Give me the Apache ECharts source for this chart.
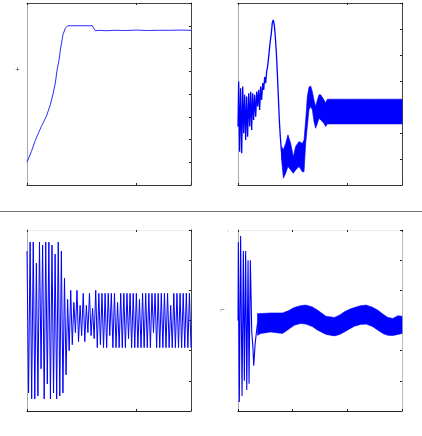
<!DOCTYPE html>
<html><head><meta charset="utf-8">
<script src="https://cdn.jsdelivr.net/npm/echarts@6/dist/echarts.min.js"></script>
<style>html,body{margin:0;padding:0;background:#fff}#c{width:422px;height:436px}</style>
</head><body><div id="c"></div><script>
// ---------- DATA ----------
// Panel 1 (top-left): rising response, then plateau
var p1X = [0, 0.040, 0.079, 0.131, 0.177, 0.213, 0.238, 0.259, 0.274, 0.293, 0.308, 0.329, 0.351, 0.375, 0.450, 0.520, 0.598, 0.625, 0.665, 0.726, 0.800, 0.900, 1.000, 1.100, 1.200, 1.300, 1.400, 1.500];
var p1Y = [1.0, 1.47, 2.0, 2.57, 3.02, 3.52, 4.0, 4.48, 5.02, 5.5, 6.02, 6.61, 6.90, 7.0, 7.0, 7.0, 7.0, 6.78, 6.80, 6.78, 6.80, 6.79, 6.81, 6.79, 6.80, 6.80, 6.81, 6.80];

// Panel 2 (top-right): early oscillating line
var p2X = [0, 0.006, 0.015, 0.024, 0.034, 0.043, 0.052, 0.061, 0.070, 0.079, 0.088, 0.098, 0.107, 0.116, 0.125, 0.134, 0.143, 0.152, 0.162, 0.171, 0.180, 0.189, 0.198, 0.207, 0.216, 0.226, 0.235, 0.244, 0.253, 0.262, 0.271, 0.284, 0.293, 0.305, 0.314, 0.323, 0.332, 0.341, 0.351, 0.360, 0.369, 0.378, 0.387, 0.396, 0.405];
var p2Y = [2.25, 3.98, 1.28, 3.72, 1.22, 3.79, 1.99, 3.47, 1.73, 3.40, 1.86, 3.53, 2.25, 3.59, 2.12, 3.53, 2.50, 3.47, 2.63, 3.59, 3.02, 3.66, 2.89, 3.79, 3.27, 3.92, 3.66, 4.15, 3.92, 4.36, 4.56, 5.07, 5.46, 5.84, 6.25, 6.35, 6.16, 5.71, 5.07, 4.30, 3.40, 2.50, 1.86, 1.35, 0.96];
// Panel 2: dense oscillation band (upper / lower envelope)
var p2BandX  = [0.399, 0.415, 0.436, 0.457, 0.482, 0.506, 0.527, 0.558, 0.588, 0.604, 0.619, 0.634, 0.649, 0.665, 0.680, 0.695, 0.710, 0.726, 0.741, 0.756, 0.787, 0.802, 0.817, 1.000, 1.200, 1.500];
var p2BandHi = [1.48, 1.35, 1.60, 1.93, 1.60, 1.09, 1.48, 1.67, 1.60, 1.73, 2.50, 3.40, 3.76, 3.81, 3.59, 3.27, 3.02, 3.27, 3.47, 3.47, 3.27, 3.15, 3.30, 3.30, 3.30, 3.30];
var p2BandLo = [0.96, 0.26, 0.45, 0.71, 0.58, 0.45, 0.58, 0.71, 0.51, 0.51, 1.60, 2.25, 2.89, 3.02, 2.89, 2.44, 2.18, 2.37, 2.57, 2.50, 2.37, 2.25, 2.35, 2.35, 2.35, 2.35];

// Panel 3 (bottom-left): switching signal samples, evenly spaced over x = 0 .. 1.5
var p3Y = [5.3,0.6,5.6,0.4,5.6,0.4,4.9,0.5,5.6,1.4,5.5,0.4,5.6,0.9,5.6,0.4,5.5,0.6,5.2,0.4,5.6,0.5,5.3,0.6,4.4,1.2,3.7,
  2.0,4.0,2.2,3.6,2.6,4.0,2.3,3.5,2.5,3.9,2.3,3.5,2.6,3.9,2.5,3.4,2.4,4.0,2.1,3.9,2.2,3.9,
  2.1,3.9,2.1,3.9,2.5,3.9,2.1,3.9,2.1,3.6,2.1,3.9,2.1,3.9,2.1,3.9,2.4,3.9,2.1,3.9,2.1,3.9,2.1,3.7,2.1,3.9,
  2.1,3.9,2.1,3.9,2.1,3.9,2.6,3.9,2.1,3.9,2.1,3.9,2.1,3.9,2.1,3.9,2.1,3.5,2.1,3.9,2.1,3.9,2.1,3.9,2.1,3.9,2.1,3.9,2.1,3.9,2.1];

// Panel 4 (bottom-right): initial swings, then a slowly waving band
var p4X = [0, 0.003, 0.012, 0.024, 0.037, 0.049, 0.058, 0.070, 0.080, 0.092, 0.101, 0.113, 0.126, 0.135, 0.144, 0.156, 0.168, 0.178];
var p4Y = [3.0, 5.6, 0.3, 5.8, 0.5, 5.3, 1.0, 5.3, 0.7, 5.0, 0.9, 5.0, 2.6, 2.2, 1.5, 2.2, 2.6, 2.9];
var p4BandX  = [0.178, 0.208, 0.300, 0.407, 0.460, 0.514, 0.570, 0.621, 0.680, 0.729, 0.805, 0.882, 0.930, 0.973, 1.020, 1.065, 1.120, 1.172, 1.230, 1.280, 1.330, 1.371, 1.417, 1.463, 1.500];
var p4BandHi = [3.23, 3.23, 3.25, 3.25, 3.32, 3.43, 3.49, 3.51, 3.45, 3.34, 3.14, 3.10, 3.18, 3.29, 3.37, 3.43, 3.49, 3.51, 3.44, 3.34, 3.20, 3.10, 3.07, 3.16, 3.14];
var p4BandLo = [2.51, 2.57, 2.62, 2.57, 2.70, 2.84, 2.90, 2.88, 2.80, 2.68, 2.54, 2.49, 2.54, 2.62, 2.72, 2.81, 2.87, 2.88, 2.80, 2.68, 2.56, 2.51, 2.50, 2.54, 2.57];

// ---------- CHART ----------
var BLUE = '#0000ff';
var chart = echarts.init(document.getElementById('c'), null, {renderer: 'canvas'});

function zip(xs, ys) { return xs.map(function (x, i) { return [x, ys[i]]; }); }

var grids = [
  {left: 27, top: 3, width: 164, height: 182},
  {left: 238, top: 3, width: 164, height: 182},
  {left: 27, top: 230, width: 164, height: 181},
  {left: 238, top: 230, width: 164, height: 181}
];
var axCfg = [
  {xi: 1, ymax: 8, top: '#444', right: '#444', left: '#aaa', bottom: '#333'},
  {xi: 1, ymax: 7, top: '#444', right: '#444', left: '#aaa', bottom: '#333'},
  {xi: 1, ymax: 6, top: '#eee', right: '#444', left: '#aaa', bottom: '#222'},
  {xi: 0.5, ymax: 6, top: '#eee', right: '#bbb', left: '#aaa', bottom: '#222'}
];
var xAxes = [], yAxes = [];
axCfg.forEach(function (c, g) {
  var base = {gridIndex: g, type: 'value', axisLabel: {show: false}, splitLine: {show: false}};
  xAxes.push(Object.assign({}, base, {min: 0, max: 1.5, interval: c.xi, position: 'bottom',
    axisLine: {show: true, onZero: false, lineStyle: {color: c.bottom, width: 1}},
    axisTick: {show: true, inside: true, length: 2, lineStyle: {color: '#222'}}}));
  xAxes.push(Object.assign({}, base, {min: 0, max: 1.5, interval: c.xi, position: 'top',
    axisLine: {show: true, onZero: false, lineStyle: {color: c.top, width: 1}},
    axisTick: {show: true, inside: true, length: 2, lineStyle: {color: '#222'}}}));
  yAxes.push(Object.assign({}, base, {min: 0, max: c.ymax, interval: 1, position: 'left',
    axisLine: {show: true, onZero: false, lineStyle: {color: c.left, width: 1}},
    axisTick: {show: false}}));
  yAxes.push(Object.assign({}, base, {min: 0, max: c.ymax, interval: 1, position: 'right',
    axisLine: {show: true, onZero: false, lineStyle: {color: c.right, width: 1}},
    axisTick: {show: true, inside: true, length: 2, lineStyle: {color: '#222'}}}));
});

function lineSeries(g, data, w, col) {
  return {type: 'line', xAxisIndex: 2 * g, yAxisIndex: 2 * g, data: data, showSymbol: false,
    symbol: 'none', lineStyle: {color: col || BLUE, width: w || 1}, silent: true, z: 3};
}
function bandSeries(g, xs, hi, lo, sm) {
  return {type: 'custom', xAxisIndex: 2 * g, yAxisIndex: 2 * g, data: [[xs[0], lo[0]]], silent: true, z: 2,
    renderItem: function (params, api) {
      var pts = [];
      for (var i = 0; i < xs.length; i++) pts.push(api.coord([xs[i], hi[i]]));
      for (var j = xs.length - 1; j >= 0; j--) pts.push(api.coord([xs[j], lo[j]]));
      return {type: 'polygon', shape: {points: pts, smooth: sm || 0}, style: {fill: BLUE, stroke: BLUE, lineWidth: 0.6}};
    }};
}
var p3Data = p3Y.map(function (v, i) { return [i * 1.5 / (p3Y.length - 1), v]; });

chart.setOption({
  animation: false,
  backgroundColor: '#fff',
  grid: grids,
  xAxis: xAxes,
  yAxis: yAxes,
  series: [
    lineSeries(0, zip(p1X, p1Y), 0.9, '#1414ff'),
    lineSeries(1, zip(p2X, p2Y), 1.3),
    bandSeries(1, p2BandX, p2BandHi, p2BandLo, 0),
    lineSeries(2, p3Data, 1),
    lineSeries(3, zip(p4X, p4Y), 1.1),
    bandSeries(3, p4BandX, p4BandHi, p4BandLo, 0)
  ],
  graphic: [
    {type: 'line', shape: {x1: 0, y1: 211.5, x2: 422, y2: 211.5}, style: {stroke: '#777', lineWidth: 1}},
    {type: 'text', left: 15, top: 66, style: {text: '+', fontSize: 6, fill: '#333', fontFamily: 'DejaVu Sans'}},
    {type: 'text', left: 220, top: 307, style: {text: '⌐', fontSize: 6, fill: '#555', fontFamily: 'DejaVu Sans'}},
    {type: 'text', left: 227, top: 228, style: {text: '·', fontSize: 6, fill: '#555', fontFamily: 'DejaVu Sans'}}
  ]
});
</script></body></html>
